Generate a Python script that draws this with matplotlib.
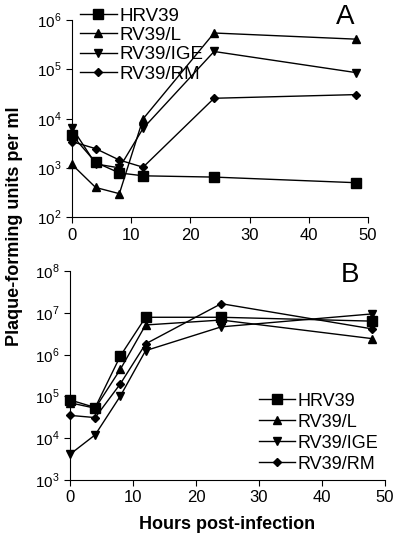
import math
import matplotlib.pyplot as plt
from matplotlib.ticker import FixedLocator, FuncFormatter, NullLocator

plt.rcParams['font.family'] = ['Liberation Sans', 'DejaVu Sans']
plt.rcParams['mathtext.fontset'] = 'custom'
plt.rcParams['mathtext.rm'] = 'Liberation Sans'

hours = [0, 4, 8, 12, 24, 48]
labels = ['HRV39', 'RV39/L', 'RV39/IGE', 'RV39/RM']
markers = ['s', '^', 'v', 'D']
msizes = [7, 6, 6, 4.5]

# panel A
a_hrv39 = [4600, 1290, 790, 690, 650, 500]
a_l = [1170, 400, 300, 9800, 540000, 405000]
a_ige = [6500, 1200, 1000, 6300, 228000, 85000]
a_rm = [3400, 2450, 1440, 1030, 25700, 30500]

# panel B
b_hrv39 = [82000, 54000, 930000, 7.8e6, 7.8e6, 6.3e6]
b_l = [70000, 52000, 445000, 5.1e6, 6.7e6, 2.4e6]
b_ige = [4100, 12000, 102000, 1.24e6, 4.6e6, 9.4e6]
b_rm = [35000, 31000, 200000, 1.8e6, 1.65e7, 4.1e6]

fig = plt.figure(figsize=(4, 5.35), dpi=100)
axA = fig.add_axes([0.18, 0.594, 0.74, 0.369])
axB = fig.add_axes([0.175, 0.103, 0.7875, 0.3905])


def style(ax, lo, hi):
    ax.set_yscale('log')
    ax.set_ylim(10**lo, 10**hi)
    ax.set_xlim(0, 50)
    ax.set_xticks([0, 10, 20, 30, 40, 50])
    ax.yaxis.set_major_locator(FixedLocator([10**e for e in range(lo, hi + 1)]))
    ax.yaxis.set_minor_locator(NullLocator())
    ax.yaxis.set_major_formatter(FuncFormatter(lambda v, p: r'$10^{%d}$' % round(math.log10(v))))
    ax.spines['top'].set_visible(False)
    ax.spines['right'].set_visible(False)
    ax.tick_params(labelsize=11, length=4, width=0.8)
    ax.tick_params(axis='x', labelsize=12)


for ys, lab, m, ms in zip([a_hrv39, a_l, a_ige, a_rm], labels, markers, msizes):
    axA.plot(hours, ys, color='black', marker=m, markersize=ms, lw=1, label=lab, clip_on=False)
style(axA, 2, 6)
axA.legend(loc='upper left', bbox_to_anchor=(0.0, 1.1), frameon=False, fontsize=13.5,
           handlelength=2, handletextpad=0.15, labelspacing=0.12, borderaxespad=0)
fig.text(0.8625, 0.968, 'A', fontsize=20, ha='center', va='center')

for ys, lab, m, ms in zip([b_hrv39, b_l, b_ige, b_rm], labels, markers, msizes):
    axB.plot(hours, ys, color='black', marker=m, markersize=ms, lw=1, label=lab, clip_on=False)
style(axB, 3, 8)
axB.legend(loc='lower right', bbox_to_anchor=(1.0, 0.0), frameon=False, fontsize=13,
           handlelength=2, handletextpad=0.1, labelspacing=0.22, borderaxespad=0)
fig.text(0.875, 0.4855, 'B', fontsize=20, ha='center', va='center')
axB.set_xlabel('Hours post-infection', fontsize=13, fontweight='bold', labelpad=8)

fig.text(0.0375, 0.578, 'Plaque-forming units per ml', rotation=90, fontsize=13,
         fontweight='bold', ha='center', va='center')

fig.savefig('out.png', dpi=100)
